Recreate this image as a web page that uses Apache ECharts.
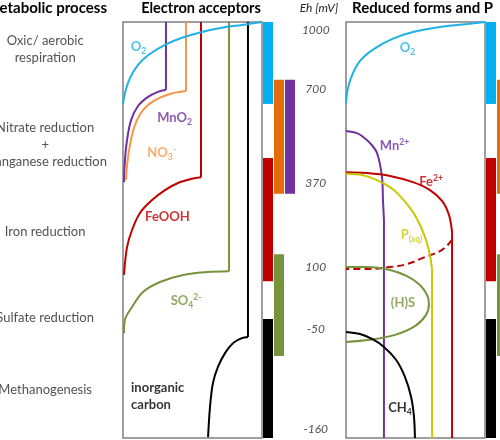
<!DOCTYPE html>
<html><head><meta charset="utf-8">
<script src="https://cdn.jsdelivr.net/npm/echarts@6/dist/echarts.min.js"></script>
<style>html,body{margin:0;padding:0;background:#fff}#c{width:500px;height:440px}</style>
</head><body><div id="c"></div>
<script>
// x = relative concentration (% of panel width), y = relative depth (% of panel height, 0 = top)
// ---- Electron acceptors panel ----
const o2Acc      = [[0,19.7],[1.4,17.1],[5.0,13.5],[10.8,10.3],[18.0,8.0],[30.2,5.5],[42.4,3.8],[56.8,2.4],[71.2,1.4],[85.6,0.7],[100,0]];
const mno2Top    = [[30.9,0],[30.9,16.3]];
const mno2Curve  = [[30.9,16.3],[25.2,16.8],[18.0,18.0],[10.8,20.2],[5.8,23.6],[2.9,28.4],[1.4,33.2],[0.7,38.5]];
const no3Top     = [[45.3,0],[45.3,16.6]];
const no3Curve   = [[45.3,16.6],[33.8,17.3],[23.0,18.8],[14.4,21.2],[8.6,24.8],[5.0,29.6],[2.9,34.4],[2.2,38.0]];
const feoohTop   = [[56.1,0],[56.1,37.3]];
const feoohCurve = [[56.1,37.3],[49.6,37.7],[39.6,38.7],[30.2,40.4],[20.9,42.8],[12.2,45.9],[6.5,50.0],[2.9,54.1],[0.7,60.8]];
const so4Top     = [[76.3,0],[76.3,59.9]];
const so4Curve   = [[76.3,59.9],[60.4,60.1],[43.2,60.8],[26.6,62.5],[14.4,64.9],[6.5,68.5],[1.4,71.6],[0.7,74.8]];
const carbTop    = [[89.9,0],[89.9,75.7]];
const carbCurve  = [[89.9,75.7],[85.6,76.0],[79.1,77.2],[73.4,79.6],[68.3,82.9],[64.7,86.8],[62.6,92.5],[61.2,99.8]];
// ---- Reduced forms panel ----
const o2Red      = [[0,19.5],[1.4,15.9],[5.0,12.3],[11.0,9.0],[20.0,6.5],[33.8,4.0],[48.2,2.4],[67.6,1.2],[87.1,0.5],[100,0]];
const mnCurve    = [[0,26.2],[7.9,26.7],[12.2,27.6],[17.3,29.1],[22.3,31.5],[25.9,37.3],[26.6,42.8],[27.3,47.6]];
const mnBottom   = [[27.3,47.6],[27.3,100]];
const feCurve    = [[0,36.1],[15.1,36.3],[31.7,37.0],[48.2,38.5],[60.4,40.4],[69.1,43.0],[74.1,46.4],[76.3,50.5]];
const feBottom   = [[76.3,50.5],[76.3,100]];
const feDashed   = [[76.3,52.4],[69.1,54.8],[55.4,56.7],[43.9,58.2],[31.7,58.9],[15.1,59.4],[0,59.4]];
const pCurve     = [[0,36.5],[11.5,36.8],[22.3,38.0],[31.7,39.7],[38.8,41.8],[48.2,45.7],[53.2,48.8],[57.6,52.4],[60.4,56.0],[61.9,59.6]];
const pBottom    = [[61.9,59.6],[61.9,100]];
const hsCurve    = [[0,58.9],[15.1,58.9],[31.7,59.6],[43.9,61.1],[53.2,63.2],[58.3,65.6],[59.7,67.8],[57.6,70.4],[49.6,73.1],[35.3,75.2],[17.3,76.4],[0,76.9]];
const ch4Curve   = [[0,74.5],[10.1,75.0],[18.7,76.2],[27.3,78.1],[36.0,81.2],[42.4,85.3],[46.8,90.1],[48.9,94.9],[49.6,100]];
// ---- Eh ranges (bars): column, top depth, bottom depth ----
const barCol   = [0, 1, 2, 0, 1, 0];
const barTop   = [0, 13.9, 13.9, 32.7, 55.8, 71.4];
const barBot   = [19.7, 41.3, 41.3, 62.3, 80.3, 100];
const barNames = ['O2','NO3-','MnO2','FeOOH','SO4','C'];
// ---- Eh tick labels ----
const ehLabels = ['1000','700','370','100','-50','-160'];
const ehDepth  = [1.9, 16.2, 38.8, 59.0, 73.8, 97.8];
// ---- Metabolic processes ----
const processLines = ['Oxic/ aerobic','respiration','Nitrate reduction','+','Manganese reduction','Iron reduction','Sulfate reduction','Methanogenesis'];
const processDepth = [4.5, 8.7, 25.5, 29.6, 33.7, 50.5, 71.2, 88.5];
// ---- Species labels ----
const accLabels = [
  {name:'{b|O}{s|2}', value:[11.2,6.0], c:'o2'},
  {name:'{b|MnO}{s|2}', value:[37.1,23.1], c:'mn'},
  {name:'{b|NO}{s|3}{p|-}', value:[27.7,31.5], c:'no3'},
  {name:'{b|FeOOH}', value:[32.0,46.9], c:'fe'},
  {name:'{b|SO}{s|4}{p|2-}', value:[45.3,67.1], c:'so4'},
  {name:'{b|inorganic}\n{b|carbon}', value:[5.8,89.9], c:'c'}
];
const redLabels = [
  {name:'{b|O}{s|2}', value:[44.2,6.3], c:'o2'},
  {name:'{b|Mn}{p|2+}', value:[34.9,29.8], c:'mn'},
  {name:'{b|Fe}{p|2+}', value:[61.2,38.5], c:'fe'},
  {name:'{b|P}{s|(aq)}', value:[47.1,51.2], c:'p'},
  {name:'{b|(H)S}', value:[41.0,67.5], c:'so4'},
  {name:'{b|CH}{s|4}', value:[38.8,92.8], c:'c'}
];

const COL = {o2:'#1fb1e6', mn:'#7030a0', no3:'#f79646', fe:'#c00000', so4:'#77933c', c:'#000000', p:'#c9c900'};
const BARCOL = {'O2':'#00b0f0','NO3-':'#e46c0a','MnO2':'#7030a0','FeOOH':'#c00000','SO4':'#77933c','C':'#000000'};
const FONT = 'Lato, "Liberation Sans", sans-serif';

const chart = echarts.init(document.getElementById('c'), null, {renderer:'canvas'});

function line(grid, data, color, smooth, dashed) {
  return {type:'line', xAxisIndex:grid, yAxisIndex:grid, data:data, showSymbol:false, symbol:'none',
    smooth: smooth ? 0.35 : false, clip:false, silent:true, animation:false,
    lineStyle:{color:color, width:2, type: dashed ? [7,4] : 'solid', cap:'butt'}};
}
function rich(color) {
  return {
    b:{fontFamily:FONT, fontWeight:'bold', fontSize:13, color:color, lineHeight:17},
    s:{fontFamily:FONT, fontWeight:'bold', fontSize:8.5, color:color, lineHeight:9, verticalAlign:'bottom'},
    p:{fontFamily:FONT, fontWeight:'bold', fontSize:8.5, color:color, lineHeight:9, verticalAlign:'top'}
  };
}
function labelSeries(grid, items) {
  return {type:'scatter', xAxisIndex:grid, yAxisIndex:grid, symbolSize:0, silent:true, animation:false,
    data: items.map(it => ({name:it.name, value:it.value,
      label:{show:true, position:'inside', formatter:p=>p.name, rich:rich(COL[it.c]),
             align: it.c==='c' && grid===0 ? 'left' : 'center', verticalAlign:'middle'}}))};
}
function barSeries(grid) {
  return {type:'custom', xAxisIndex:grid, yAxisIndex:grid, silent:true, animation:false, clip:false,
    data: barCol.map((c,i)=>({value:[c, barTop[i], barBot[i]], itemStyle:{color:BARCOL[barNames[i]]}})),
    renderItem:(params, api)=>{
      const p1 = api.coord([api.value(0), api.value(1)]);
      const p2 = api.coord([api.value(0)+1, api.value(2)]);
      return {type:'rect', shape:{x:p1[0], y:p1[1], width:p2[0]-p1[0]-1, height:p2[1]-p1[1]},
              style:{fill:api.visual('color')}};
    }};
}

const gridBase = {top:22, height:416};
const option = {
  backgroundColor:'#ffffff',
  animation:false,
  grid:[
    Object.assign({left:123, width:139, show:true, borderColor:'#808080', borderWidth:1.5, backgroundColor:'transparent'}, gridBase),
    Object.assign({left:346, width:139, show:true, borderColor:'#808080', borderWidth:1.5, backgroundColor:'transparent'}, gridBase),
    Object.assign({left:263, width:88}, gridBase),
    Object.assign({left:486, width:11}, gridBase)
  ],
  xAxis:[
    {gridIndex:0, type:'value', min:0, max:100, show:false},
    {gridIndex:1, type:'value', min:0, max:100, show:false},
    {gridIndex:2, type:'value', min:0, max:8, show:false},
    {gridIndex:3, type:'value', min:0, max:1, show:false}
  ],
  yAxis:[0,1,2,3].map(g=>({gridIndex:g, type:'value', min:0, max:100, inverse:true, show:false})),
  graphic:[
    {type:'text', x:107, y:8, style:{text:'Metabolic process', font:'bold 15px '+FONT, fill:'#000', align:'right', verticalAlign:'middle'}},
    {type:'text', x:201, y:8, style:{text:'Electron acceptors', font:'bold 14.5px '+FONT, fill:'#000', align:'center', verticalAlign:'middle'}},
    {type:'text', x:319, y:8, style:{text:'Eh [mV]', font:'italic 12px '+FONT, fill:'#262626', align:'center', verticalAlign:'middle'}},
    {type:'text', x:352, y:8, style:{text:'Reduced forms and P', font:'bold 15px '+FONT, fill:'#000', align:'left', verticalAlign:'middle'}}
  ],
  series:[
    // electron acceptors
    line(0, mno2Top, COL.mn, false), line(0, mno2Curve, COL.mn, true),
    line(0, no3Top, COL.no3, false), line(0, no3Curve, COL.no3, true),
    line(0, feoohTop, COL.fe, false), line(0, feoohCurve, COL.fe, true),
    line(0, so4Top, COL.so4, false), line(0, so4Curve, COL.so4, true),
    line(0, carbTop, COL.c, false), line(0, carbCurve, COL.c, true),
    line(0, o2Acc, COL.o2, true),
    labelSeries(0, accLabels),
    // reduced forms
    line(1, o2Red, COL.o2, true),
    line(1, mnCurve, COL.mn, true), line(1, mnBottom, COL.mn, false),
    line(1, feCurve, COL.fe, true), line(1, feBottom, COL.fe, false),
    line(1, feDashed, COL.fe, true, true),
    line(1, pCurve, COL.p, true), line(1, pBottom, COL.p, false),
    line(1, hsCurve, COL.so4, true),
    line(1, ch4Curve, COL.c, true),
    labelSeries(1, redLabels),
    // bars
    barSeries(2), barSeries(3),
    // Eh labels
    {type:'scatter', xAxisIndex:2, yAxisIndex:2, symbolSize:0, silent:true,
     data: ehLabels.map((t,i)=>({name:t, value:[4.8, ehDepth[i]]})),
     label:{show:true, position:'inside', formatter:p=>p.name, fontFamily:FONT, fontStyle:'italic', fontSize:12, color:'#262626'}},
    // metabolic processes (left column, positioned on depth scale of left panel)
    {type:'scatter', xAxisIndex:0, yAxisIndex:0, symbolSize:0, silent:true, clip:false,
     data: processLines.map((t,i)=>({name:t, value:[-56, processDepth[i]]})),
     label:{show:true, position:'inside', formatter:p=>p.name, fontFamily:FONT, fontSize:13, color:'#262626'}}
  ]
};
chart.setOption(option);
</script></body></html>
